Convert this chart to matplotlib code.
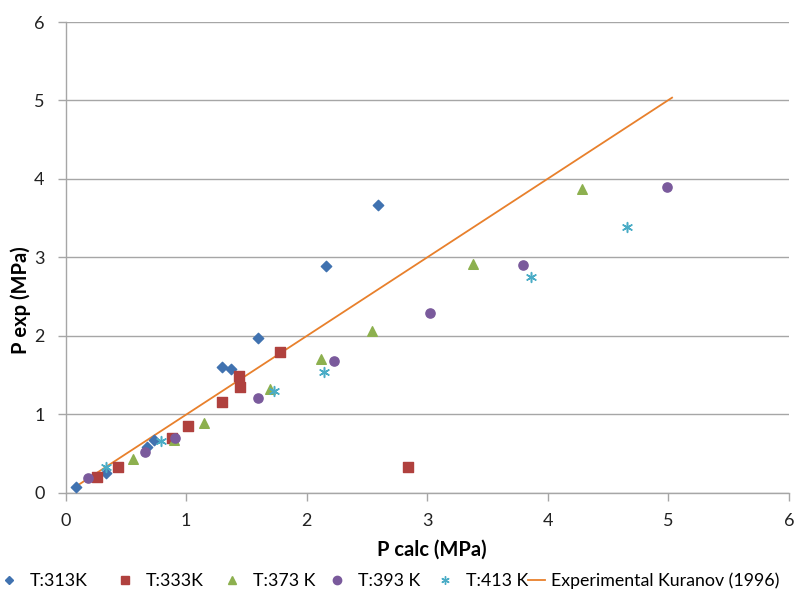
import matplotlib
matplotlib.use("Agg")
import matplotlib.pyplot as plt
from matplotlib.lines import Line2D

plt.rcParams['font.family'] = ['Lato', 'DejaVu Sans']

# Calculated vs experimental pressure (MPa) per temperature
t313_calc = [0.09, 0.34, 0.68, 0.73, 1.30, 1.37, 1.60, 2.16, 2.59]
t313_exp = [0.07, 0.25, 0.58, 0.67, 1.60, 1.58, 1.97, 2.89, 3.67]

t333_calc = [0.26, 0.435, 0.88, 1.02, 1.295, 1.44, 1.45, 1.78, 2.84]
t333_exp = [0.20, 0.33, 0.69, 0.85, 1.155, 1.49, 1.35, 1.79, 0.33]

t373_calc = [0.557, 0.90, 1.15, 1.70, 2.12, 2.54, 3.38, 4.28]
t373_exp = [0.43, 0.67, 0.88, 1.32, 1.70, 2.06, 2.92, 3.87]

t393_calc = [0.187, 0.66, 0.91, 1.60, 2.23, 3.02, 3.79, 4.985]
t393_exp = [0.18, 0.52, 0.70, 1.20, 1.68, 2.29, 2.90, 3.90]

t413_calc = [0.336, 0.79, 1.73, 2.14, 3.86, 4.66]
t413_exp = [0.33, 0.66, 1.29, 1.54, 2.745, 3.39]

kuranov_calc = [0.09, 5.03]
kuranov_exp = [0.08, 5.035]

x_ticks = [0, 1, 2, 3, 4, 5, 6]
y_ticks = [0, 1, 2, 3, 4, 5, 6]

labels = ['T:313K', 'T:333K', 'T:373 K', 'T:393 K', 'T:413 K',
          'Experimental Kuranov (1996)']

W, H = 795, 596
fig = plt.figure(figsize=(W / 100, H / 100), dpi=100)
ax = fig.add_axes([65.5 / W, 1 - 492.5 / H, (789 - 65.5) / W, (492.5 - 22) / H])

grid_c = '#a6a6a6'
c_line = '#e8802c'
c313, c333, c373, c393, c413 = '#4072b0', '#b0413e', '#8db04f', '#7a5a9c', '#4aacc6'
star = (6, 2, 0)

ax.plot(kuranov_calc, kuranov_exp, color=c_line, lw=1.3, zorder=2)
ax.scatter(t313_calc, t313_exp, marker='D', s=28, color=c313, zorder=3)
ax.scatter(t333_calc, t333_exp, marker='s', s=46, color=c333, zorder=3)
ax.scatter(t373_calc, t373_exp, marker='^', s=48, color=c373, zorder=3)
ax.scatter(t393_calc, t393_exp, marker='o', s=44, color=c393, zorder=3)
ax.scatter(t413_calc, t413_exp, marker=star, s=50, color=c413,
           linewidths=1.1, zorder=3)

ax.set_xlim(0, 6)
ax.set_ylim(0, 6)
ax.set_xticks(x_ticks)
ax.set_yticks(y_ticks)
ax.yaxis.grid(True, color=grid_c, lw=1.0)
ax.set_axisbelow(True)
for s in ['top', 'right']:
    ax.spines[s].set_visible(False)
for s in ['left', 'bottom']:
    ax.spines[s].set_color(grid_c)
    ax.spines[s].set_linewidth(1.0)
ax.tick_params(axis='both', colors=grid_c, length=6, width=1.0,
               labelcolor='#222222', labelsize=13, direction='out')
ax.tick_params(axis='x', pad=9)
ax.tick_params(axis='y', pad=9)

ax.set_xlabel('P calc (MPa)', fontsize=14.5, fontweight='bold', labelpad=6)
ax.xaxis.set_label_coords((432 - 65.5) / (789 - 65.5), -(550 - 492.5) / (492.5 - 22),
                          transform=ax.transAxes)
ax.xaxis.label.set_verticalalignment('center')
fig.text(21 / W, 1 - 300 / H, 'P exp (MPa)', rotation=90, ha='center',
         va='center', fontsize=14.5, fontweight='bold')

# Legend entries placed individually along the bottom
handles = [
    Line2D([], [], ls='none', marker='D', ms=4.5, color=c313),
    Line2D([], [], ls='none', marker='s', ms=5.5, color=c333),
    Line2D([], [], ls='none', marker='^', ms=6, color=c373),
    Line2D([], [], ls='none', marker='o', ms=6, color=c393),
    Line2D([], [], ls='none', marker=star, ms=6, color=c413, mew=1.0),
    Line2D([], [], color=c_line, lw=1.3),
]
fs_leg = 12.8
em = fs_leg * 100 / 72
centers = [9, 125, 232, 337, 445]
for h, lab, cx in zip(handles[:5], labels[:5], centers):
    fig.legend([h], [lab], loc='center left',
               bbox_to_anchor=((cx - 0.5 * em) / W, 1 - 581 / H),
               frameon=False, fontsize=fs_leg, handlelength=1.0,
               handletextpad=(21 - 0.5 * em) / em, borderpad=0,
               borderaxespad=0)
fig.legend([handles[5]], [labels[5]], loc='center left',
           bbox_to_anchor=(528 / W, 1 - 581 / H), frameon=False,
           fontsize=fs_leg, handlelength=17 / em, handletextpad=6 / em,
           borderpad=0, borderaxespad=0)

fig.savefig('out.png', dpi=100)
